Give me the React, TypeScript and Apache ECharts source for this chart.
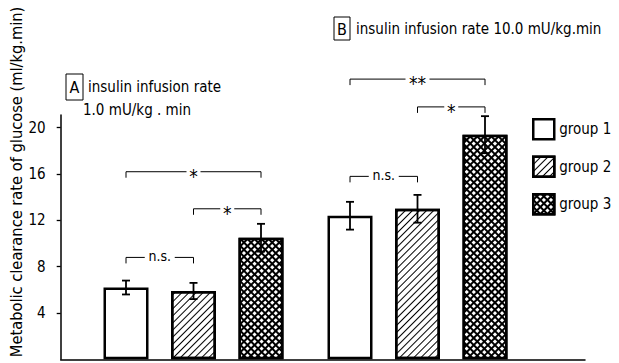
import React, { useEffect, useRef } from "react";
import * as echarts from "echarts";

const panels = ["A", "B"];
const groupNames = ["group 1", "group 2", "group 3"];
const group1Means = [6.2, 12.4];
const group2Means = [5.9, 13.0];
const group3Means = [10.5, 19.4];
const group1Errors = [0.6, 1.2];
const group2Errors = [0.7, 1.2];
const group3Errors = [1.2, 1.6];
const yTickValues = [4, 8, 12, 16, 20];
// [panel index, from group, to group, height, label]
const brackets: [number, number, number, number, string][] = [
  [0, 0, 1, 8.8, "n.s."],
  [0, 1, 2, 13.0, "*"],
  [0, 0, 2, 16.2, "*"],
  [1, 0, 1, 15.8, "n.s."],
  [1, 1, 2, 21.8, "*"],
  [1, 0, 2, 24.2, "**"],
];
const yAxisTitle = "Metabolic clearance rate of glucose (ml/kg.min)";
const panelATitle1 = "insulin infusion rate";
const panelATitle2 = "1.0 mU/kg . min";
const panelBTitle = "insulin infusion rate 10.0 mU/kg.min";

const FONT = "'DejaVu Sans Condensed', 'Liberation Sans Narrow', 'Roboto Condensed', 'Noto Sans', sans-serif";
const BAR_W = 45;
const BAR_GAP = 22.5;
const Y_MAX = 21.1;

export default function App() {
  const ref = useRef<HTMLDivElement>(null);
  useEffect(() => {
    if (!ref.current) return;
    const chart = echarts.init(ref.current, null, { renderer: "svg" });
    const means = [group1Means, group2Means, group3Means];
    const errs = [group1Errors, group2Errors, group3Errors];
    const step = BAR_W + BAR_GAP;

    const barStyles = [
      { color: "#fff", borderColor: "#000", borderWidth: 2.5 },
      {
        color: "#fff",
        borderColor: "#000",
        borderWidth: 2.5,
        decal: {
          symbol: "rect",
          color: "#000",
          dashArrayX: [1, 0],
          dashArrayY: [0.8, 3.4],
          rotation: -Math.PI / 4,
        },
      },
      {
        color: "#000",
        borderColor: "#000",
        borderWidth: 2.5,
        decal: {
          symbol: "rect",
          color: "#fff",
          dashArrayX: [2.3, 1.2],
          dashArrayY: [2.3, 1.2],
          rotation: Math.PI / 4,
        },
      },
    ];

    const errData: number[][] = [];
    for (let g = 0; g < 3; g++) {
      for (let p = 0; p < panels.length; p++) {
        errData.push([p, means[g][p], errs[g][p], g]);
      }
    }

    const option: any = {
      animation: false,
      grid: [
        { left: 81.5, right: 89.5, top: 115, bottom: 3.7 },
        { left: 60.7, right: 34, top: 115, bottom: 3.7 },
      ],
      xAxis: [
        { type: "category", gridIndex: 0, data: panels, show: false },
        {
          type: "value",
          gridIndex: 1,
          min: 0,
          max: 1,
          axisLine: { show: true, lineStyle: { color: "#000", width: 1.5 } },
          axisTick: { show: false },
          axisLabel: { show: false },
          splitLine: { show: false },
        },
      ],
      yAxis: [
        { type: "value", gridIndex: 0, min: 0, max: Y_MAX, show: false },
        {
          type: "value",
          gridIndex: 1,
          min: 0,
          max: Y_MAX,
          axisLine: { show: true, lineStyle: { color: "#000", width: 1.5 } },
          axisTick: {
            show: true,
            length: 4,
            lineStyle: { color: "#000", width: 1.3 },
            customValues: yTickValues,
          },
          axisLabel: {
            customValues: yTickValues,
            margin: 15,
            color: "#000",
            fontFamily: FONT,
            fontSize: 15,
          },
          splitLine: { show: false },
        },
      ],
      legend: {
        orient: "vertical",
        left: 532,
        top: 118,
        padding: 0,
        itemWidth: 21,
        itemHeight: 20,
        itemGap: 15,
        icon: "rect",
        data: groupNames,
        textStyle: { color: "#000", fontFamily: FONT, fontSize: 15 },
        itemStyle: { borderWidth: 2.5, borderColor: "#000" },
      },
      series: [
        ...groupNames.map((name, g) => ({
          type: "bar",
          name,
          xAxisIndex: 0,
          yAxisIndex: 0,
          data: means[g],
          barWidth: BAR_W,
          barGap: (BAR_GAP / BAR_W) * 100 + "%",
          itemStyle: barStyles[g],
        })),
        {
          type: "custom",
          name: "errors",
          xAxisIndex: 0,
          yAxisIndex: 0,
          clip: false,
          z: 5,
          data: errData,
          encode: { x: 0, y: 1 },
          renderItem: (params: any, api: any) => {
            const p = api.value(0);
            const m = api.value(1);
            const e = api.value(2);
            const g = api.value(3);
            const top = api.coord([p, m + e]);
            const bot = api.coord([p, m - e]);
            const x = top[0] + (g - 1) * step;
            const cap = 4;
            const ls = { stroke: "#000", lineWidth: 1.8 };
            return {
              type: "group",
              children: [
                { type: "line", shape: { x1: x, y1: top[1], x2: x, y2: bot[1] }, style: ls },
                { type: "line", shape: { x1: x - cap, y1: top[1], x2: x + cap, y2: top[1] }, style: ls },
                { type: "line", shape: { x1: x - cap, y1: bot[1], x2: x + cap, y2: bot[1] }, style: ls },
              ],
            };
          },
        },
        {
          type: "custom",
          name: "brackets",
          xAxisIndex: 0,
          yAxisIndex: 0,
          clip: false,
          z: 5,
          data: brackets.map((b) => [b[0], b[3], b[1], b[2]]),
          encode: { x: 0, y: 1 },
          renderItem: (params: any, api: any) => {
            const p = api.value(0);
            const h = api.value(1);
            const from = api.value(2);
            const to = api.value(3);
            const c = api.coord([p, h]);
            const x1 = c[0] + (from - 1) * step;
            const x2 = c[0] + (to - 1) * step;
            const y = c[1];
            const label = brackets[params.dataIndex][4];
            const isNs = label === "n.s.";
            return {
              type: "group",
              children: [
                {
                  type: "polyline",
                  shape: { points: [[x1, y + 6], [x1, y], [x2, y], [x2, y + 6]] },
                  style: { stroke: "#000", lineWidth: 1, fill: "none" },
                },
                {
                  type: "rect",
                  shape: { x: (x1 + x2) / 2 - (isNs ? 15 : label.length * 5 + 2), y: y - 2, width: isNs ? 30 : label.length * 10 + 4, height: 4 },
                  style: { fill: "#fff" },
                },
                {
                  type: "text",
                  x: (x1 + x2) / 2,
                  y: y + (isNs ? -1 : 4),
                  style: {
                    text: label,
                    align: "center",
                    verticalAlign: "middle",
                    fill: "#000",
                    fontFamily: FONT,
                    fontSize: isNs ? 14 : 19,
                  },
                },
              ],
            };
          },
        },
      ],
      graphic: [
        {
          type: "text",
          x: 16.5,
          y: 182,
          rotation: Math.PI / 2,
          style: {
            text: yAxisTitle,
            align: "center",
            verticalAlign: "middle",
            fill: "#000",
            fontFamily: FONT,
            fontSize: 16.3,
          },
        },
        {
          type: "rect",
          shape: { x: 66, y: 74, width: 17, height: 26 },
          style: { fill: "none", stroke: "#000", lineWidth: 1 },
        },
        {
          type: "text",
          x: 74.5,
          y: 87,
          style: { text: "A", align: "center", verticalAlign: "middle", fill: "#000", fontFamily: FONT, fontSize: 16 },
        },
        {
          type: "text",
          x: 88,
          y: 87,
          style: { text: panelATitle1, align: "left", verticalAlign: "middle", fill: "#000", fontFamily: FONT, fontSize: 15 },
        },
        {
          type: "text",
          x: 83,
          y: 110,
          style: { text: panelATitle2, align: "left", verticalAlign: "middle", fill: "#000", fontFamily: FONT, fontSize: 15 },
        },
        {
          type: "rect",
          shape: { x: 334, y: 17, width: 16, height: 23 },
          style: { fill: "none", stroke: "#000", lineWidth: 1 },
        },
        {
          type: "text",
          x: 342,
          y: 29,
          style: { text: "B", align: "center", verticalAlign: "middle", fill: "#000", fontFamily: FONT, fontSize: 16 },
        },
        {
          type: "text",
          x: 356,
          y: 29,
          style: { text: panelBTitle, align: "left", verticalAlign: "middle", fill: "#000", fontFamily: FONT, fontSize: 15 },
        },
      ],
    };
    chart.setOption(option);
    return () => chart.dispose();
  }, []);
  return <div ref={ref} style={{ width: 619, height: 363, position: "absolute", left: 0, top: 0 }} />;
}
